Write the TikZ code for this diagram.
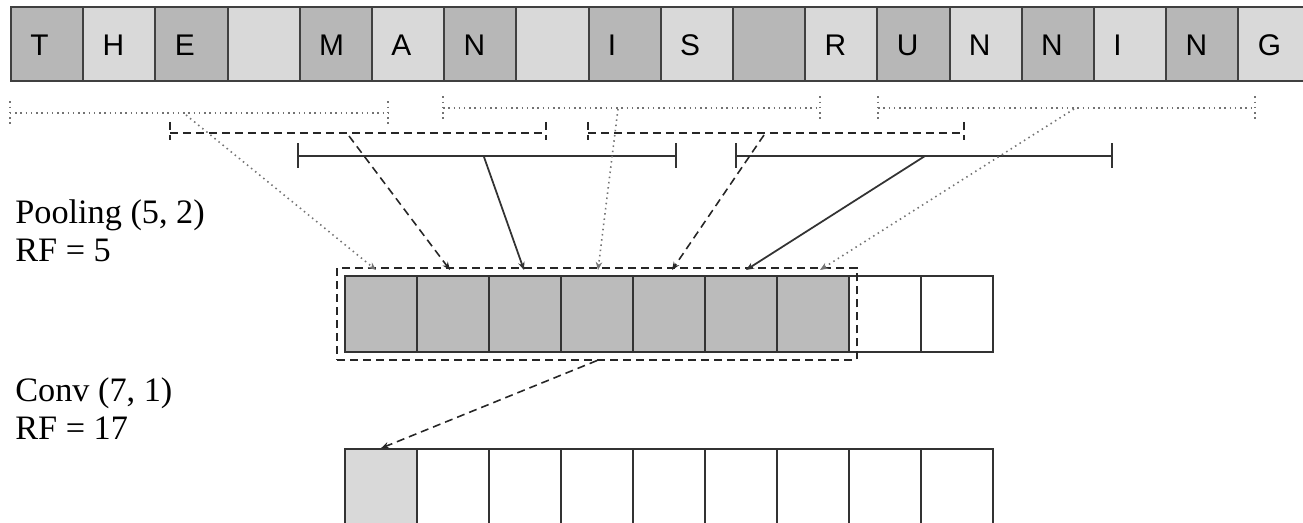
\documentclass[tikz,border=0pt]{standalone}
\usepackage{fontspec}
\setmainfont{Liberation Serif}
\newfontfamily\cellfont{Liberation Sans}
\usetikzlibrary{arrows.meta,fit}

\definecolor{darkcell}{HTML}{B7B7B7}
\definecolor{lightcell}{HTML}{D9D9D9}
\definecolor{poolcell}{HTML}{BBBBBB}

\begin{document}
\begin{tikzpicture}[x=0.02cm, y=-0.02cm,
    charcell/.style={draw=black!75, line width=1.1pt, minimum width=1.444cm, minimum height=1.48cm, inner sep=0pt},
    char/.style={font=\cellfont\fontsize{17}{19}\selectfont, anchor=base west, inner sep=0pt},
    featcell/.style={draw=black!80, line width=0.9pt, minimum width=1.44cm, minimum height=1.52cm, inner sep=0pt},
    dotline/.style={black!55, line width=0.9pt, dash pattern=on 0.3mm off 0.75mm},
    dashline/.style={black!85, line width=0.9pt, dash pattern=on 1.6mm off 1mm},
    solidline/.style={black!80, line width=1pt},
    tip/.style={-{Stealth[length=1.6mm,width=1.3mm]}},
    layer/.style={font=\fontsize{19.5}{21.8}\selectfont, align=left, anchor=base west, inner sep=0pt}]

        \useasboundingbox (0,0) rectangle (1303,523);
        \clip (0,0) rectangle (1303,523);

        % Characters
        \foreach \l [count=\i] in {T,H,E,{},M,A,N,{},I,S,{},R,U,N,N,I,N,G} {
            \ifodd\i \def\fillc{darkcell}\else \def\fillc{lightcell}\fi
            \node[charcell, fill=\fillc] (c\i) at ({47.1+72.2*(\i-1)},44) {};
            \node[char] (l\i) at ({30+72.2*(\i-1)},56) {\l};
        }

        % Windows over the characters
        \foreach \xa/\xb/\y in {10/388/113, 443/820/108, 878/1255/108}
            \draw[dotline] (\xa,\y-11.5) -- (\xa,\y+11.5) (\xa,\y) -- (\xb,\y) (\xb,\y-11.5) -- (\xb,\y+11.5);
        \foreach \xa/\xb in {170/546, 588/964}
            \draw[dashline] (\xa,122) -- (\xa,140) (\xa,133) -- (\xb,133) (\xb,122) -- (\xb,140);
        \foreach \xa/\xb in {298/676, 736/1112}
            \draw[solidline] (\xa,143.5) -- (\xa,168.5) (\xa,156) -- (\xb,156) (\xb,143.5) -- (\xb,168.5);

        % Pooling layer
        \foreach \i in {1,...,9} {
            \ifnum\i<8 \def\fillc{poolcell}\else \def\fillc{white}\fi
            \node[featcell, fill=\fillc] (p\i) at ({381+72*(\i-1)},314) {};
        }
        \node[dashline, draw, fit=(p1)(p7), inner sep=0.14cm] (poolwin) {};

        % Conv layer
        \foreach \i in {1,...,9} {
            \ifnum\i=1 \def\fillc{lightcell}\else \def\fillc{white}\fi
            \node[featcell, fill=\fillc] (q\i) at ({381+72*(\i-1)},487) {};
        }

        % Labels (base is the last line)
        \node[layer] (poollbl) at (15,262) {Pooling (5, 2)\\RF = 5};
        \node[layer] (convlbl) at (15,440) {Conv (7, 1)\\RF = 17};

        % Connections
        \coordinate (s1) at (186,115);
        \coordinate (s2) at (349,136);
        \coordinate (s3) at (484,157);
        \coordinate (s4) at (618,109);
        \coordinate (s5) at (764,135);
        \coordinate (s6) at (925,156);
        \coordinate (s7) at (1074,109);
        \foreach \i in {1,...,7}
            \coordinate (t\i) at ({376+74*(\i-1)},270);

        \draw[dotline, tip] (s1) -- (t1);
        \draw[dashline, tip] (s2) -- (t2);
        \draw[solidline, tip] (s3) -- (t3);
        \draw[dotline, tip] (s4) -- (t4);
        \draw[dashline, tip] (s5) -- (t5);
        \draw[solidline, tip] (s6) -- (t6);
        \draw[dotline, tip] (s7) -- (t7);

        \draw[dashline, tip] (poolwin.south) -- (q1.north);
    \end{tikzpicture}
\end{document}
